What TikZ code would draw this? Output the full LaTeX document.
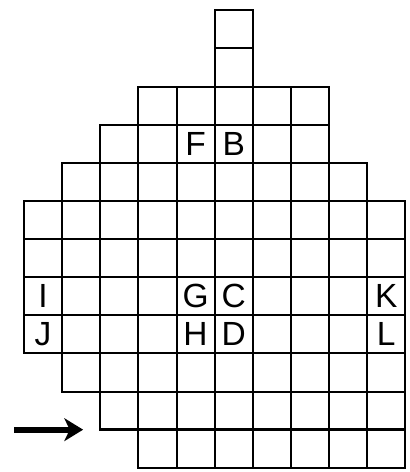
\documentclass[tikz,border=0pt]{standalone}
\usepackage{fontspec}
\setmainfont{Liberation Sans}
\usetikzlibrary{arrows.meta}

\begin{document}
\begin{tikzpicture}[
    cell/.style={draw, line width=1.5pt},
    edge/.style={line width=2.7pt},
    arr/.style={-{Stealth[length=14pt, width=17pt, inset=4pt]}, line width=4.5pt},
    lbl/.style={font=\fontsize{25}{25}\selectfont, inner sep=0pt}
]
\useasboundingbox (-0.63,-0.11) rectangle (10.1,12.27);

% cells, row by row: bottom y / first column / last column
\foreach \y/\a/\b in {11/5/5, 10/5/5, 9/3/7, 8/2/7, 7/1/8, 6/0/9, 5/0/9, 4/0/9, 3/0/9, 2/1/9, 1/2/9, 0/3/9}
  \foreach \x in {\a,...,\b}
    \draw[cell] (\x,\y) rectangle ++(1,1);

\draw[edge] (2,1) -- (10,1);

\node[lbl] (F) at (4.5,8.5) {F};
\node[lbl] (B) at (5.5,8.5) {B};
\node[lbl] (I) at (0.5,4.5) {I};
\node[lbl] (G) at (4.5,4.5) {G};
\node[lbl] (C) at (5.5,4.5) {C};
\node[lbl] (K) at (9.5,4.5) {K};
\node[lbl] (J) at (0.5,3.5) {J};
\node[lbl] (H) at (4.5,3.5) {H};
\node[lbl] (D) at (5.5,3.5) {D};
\node[lbl] (L) at (9.5,3.5) {L};

\coordinate (start) at (-0.26,1);
\coordinate (stop) at (1.55,1);
\draw[arr] (start) -- (stop);
\end{tikzpicture}
\end{document}
